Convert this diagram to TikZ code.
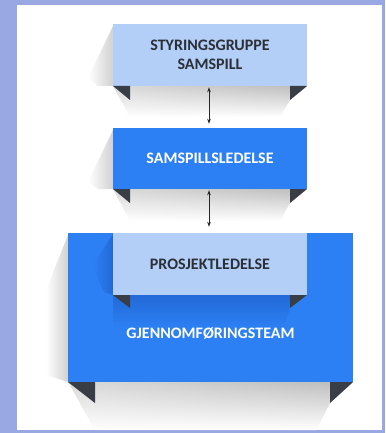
\documentclass[tikz,border=0pt]{standalone}
\usepackage{fontspec}
\usetikzlibrary{arrows.meta,fadings}
\setmainfont{Carlito}
\definecolor{frame}{HTML}{99A7E2}
\definecolor{paleblue}{HTML}{B3CFF8}
\definecolor{midblue}{HTML}{2D80F4}
\definecolor{deepblue}{HTML}{2269D8}
\definecolor{fold}{HTML}{393E46}
\definecolor{ink}{HTML}{2B2F36}
\tikzfading[name=softleft, left color=transparent!45, right color=transparent!0]
\begin{document}
\begin{tikzpicture}[x=1pt,y=-1pt,
  labelfont/.style={font=\fontsize{16}{18.5}\selectfont\bfseries},
  panel/.style={labelfont,draw=none,minimum width=194pt,minimum height=62pt,inner sep=0pt,align=center},
  palebox/.style={panel,fill=paleblue,text=ink},
  bluebox/.style={panel,fill=midblue,text=white},
  foldtri/.style={fill=fold},
  conn/.style={<->,>={Stealth[length=5pt,width=3.5pt]},line width=0.8pt,black!85},
  dropshade/.style={top color=black!26,bottom color=white,path fading=softleft},
  sideshade/.style={left color=white,right color=black!18},
  innershade/.style={top color=deepblue,bottom color=midblue}]
\useasboundingbox (0,0) rectangle (385,433);
% frame and white sheet
\fill[frame] (0,0) rectangle (385,433);
\fill[white] (17,5) rectangle (382,430);

% cast shadows behind the boxes
\shade[sideshade] (113,26) -- (88,78) -- (98,86) -- (113,86) -- cycle;
\shade[dropshade] (113,86) -- (307,86) -- (290,100) -- (280,117) -- (130,117) -- cycle;
\shade[sideshade] (113,130) -- (88,182) -- (98,189) -- (113,189) -- cycle;
\shade[dropshade] (113,189) -- (307,189) -- (290,203) -- (280,221) -- (130,221) -- cycle;
\shade[sideshade] (68,235) -- (46,290) -- (46,375) -- (68,382) -- cycle;
\shade[dropshade] (68,382) -- (353,382) -- (330,403) -- (316,430) -- (95,430) -- cycle;

% boxes
\node[palebox] (styr) at (210,55) {STYRINGSGRUPPE\\SAMSPILL};
\node[bluebox,minimum height=61pt] (saml) at (210,158.5) {SAMSPILLSLEDELSE};
\node[bluebox,minimum width=285pt,minimum height=149pt] (team) at (210.5,307.5) {};

% shading on the large box around the inner box
\shade[left color=midblue,right color=deepblue] (113,234) -- (92,266) -- (104,292) -- (113,295) -- cycle;
\shade[innershade] (113,295) -- (290,295) -- (290,308) -- (284,328) -- (113,328) -- cycle;

\node[labelfont,text=white] (teamlabel) at (210.5,333) {GJENNOMFØRINGSTEAM};
\node[palebox] (prosj) at (210,264) {PROSJEKTLEDELSE};

% folded ribbon ends
\fill[foldtri] (113,86) -- (130,86) -- (130,100) -- cycle;
\fill[foldtri] (290,86) -- (307,86) -- (290,100) -- cycle;
\fill[foldtri] (113,189) -- (130,189) -- (130,203) -- cycle;
\fill[foldtri] (290,189) -- (307,189) -- (290,203) -- cycle;
\fill[foldtri] (113,295) -- (130,295) -- (130,308) -- cycle;
\fill[foldtri] (290,295) -- (307,295) -- (290,308) -- cycle;
\fill[foldtri] (68,382) -- (95,382) -- (95,403) -- cycle;
\fill[foldtri] (330,382) -- (353,382) -- (330,403) -- cycle;

% links between levels
\draw[conn,shorten <=1pt,shorten >=4pt] ([xshift=-1pt]styr.south) -- ([xshift=-1pt]saml.north);
\draw[conn,shorten <=1pt,shorten >=6pt] ([xshift=-1pt]saml.south) -- ([xshift=-1.5pt]team.north);
\end{tikzpicture}
\end{document}
